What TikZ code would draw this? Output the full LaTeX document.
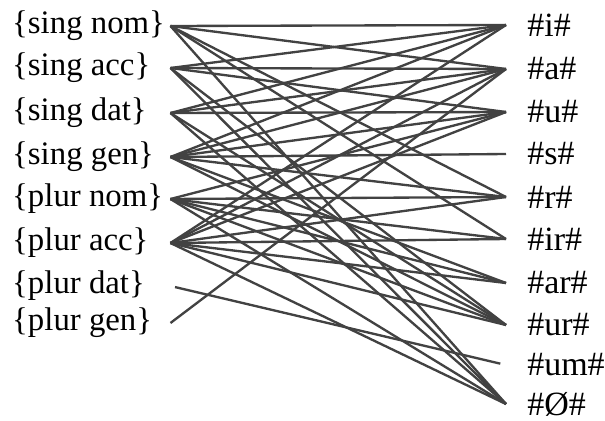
\documentclass[tikz,border=0pt]{standalone}
\usepackage{fontspec}
\setmainfont{Liberation Serif}

\begin{document}
\begin{tikzpicture}[x=0.03cm, y=-0.03cm]
  \tikzstyle{feat} = [anchor=west, inner xsep=0pt, inner ysep=0pt, text width=4.74cm, align=flush left, font=\fontsize{28}{32}\selectfont]
  \tikzstyle{suf} = [anchor=west, inner xsep=18pt, inner ysep=0pt, font=\fontsize{29}{32}\selectfont]
  \tikzstyle{link} = [draw=black!74, line width=2pt]

  \useasboundingbox (0,0) rectangle (605,421);

  \node[feat] (sn) at (12,26) {\{sing nom\}};
  \node[feat] (sa) at (12,68) {\{sing acc\}};
  \node[feat] (sd) at (12,113) {\{sing dat\}};
  \node[feat] (sg) at (12,157) {\{sing gen\}};
  \node[feat] (pn) at (12,199) {\{plur nom\}};
  \node[feat] (pa) at (12,243) {\{plur acc\}};
  \node[feat] (pd) at (12,286) {\{plur dat\}};
  \node[feat] (pg) at (12,323) {\{plur gen\}};

  \node[suf] (ei) at (506,25) {\#i\#};
  \node[suf] (ea) at (506,69) {\#a\#};
  \node[suf] (eu) at (506,112) {\#u\#};
  \node[suf] (es) at (506,154) {\#s\#};
  \node[suf] (er) at (506,197) {\#r\#};
  \node[suf] (eir) at (506,239) {\#ir\#};
  \node[suf] (ear) at (506,283) {\#ar\#};
  \node[suf] (eur) at (506,325) {\#ur\#};
  \node[suf] (eum) at (506,365) {\#um\#};
  \node[suf] (enull) at (506,404) {\#Ø\#};

  \foreach \f/\e in {sn/ei, sn/ea, sn/er, sn/eir, sn/enull,
                     sa/ei, sa/ea, sa/eu, sa/eur, sa/enull,
                     sd/ei, sd/ea, sd/eu, sd/eur, sd/enull,
                     sg/ei, sg/ea, sg/eu, sg/es, sg/er, sg/ear, sg/eur,
                     pn/eu, pn/er, pn/eir, pn/ear, pn/eur, pn/enull,
                     pa/ei, pa/ea, pa/eu, pa/er, pa/eir, pa/ear, pa/eur, pa/enull,
                     pg/ea}
    \draw[link] (\f.east) -- (\e.west);
  \draw[link, shorten <=4pt, shorten >=5pt] (pd.east) -- (eum.west);
\end{tikzpicture}
\end{document}
